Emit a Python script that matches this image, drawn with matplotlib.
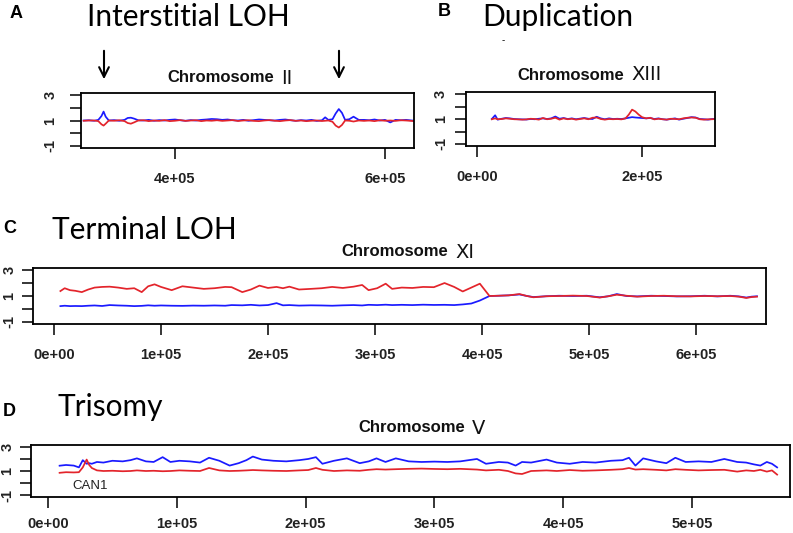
import matplotlib
matplotlib.use("Agg")
import matplotlib.pyplot as plt

plt.rcParams['font.family'] = ['Liberation Sans', 'DejaVu Sans']
plt.rcParams['axes.unicode_minus'] = False

# ---- data (positions in kb, relative copy number) ----
# A: Chromosome II, interstitial LOH
a_pos = [313, 318, 323, 327, 330, 332, 334, 337, 342, 347,
         352, 355, 358, 361, 365, 370, 375, 380, 385, 390,
         395, 400, 405, 410, 415, 420, 425, 430, 435, 440,
         445, 450, 455, 460, 465, 470, 475, 480, 485, 490,
         495, 500, 505, 510, 515, 520, 525, 530, 535, 540,
         543, 546, 550, 553, 556, 559, 562, 566, 570, 575,
         580, 585, 590, 595, 600, 605, 610, 615, 620, 628]
a_blue = [1.00, 1.02, 0.98, 1.05, 1.35, 1.70, 1.30, 1.00, 1.03, 0.98,
          1.05, 1.20, 1.22, 1.15, 1.02, 1.00, 1.05, 0.98, 1.03, 1.00,
          1.05, 1.08, 1.02, 0.98, 1.03, 1.00, 1.05, 1.08, 1.12, 1.10,
          1.05, 1.08, 1.02, 1.00, 1.05, 0.98, 1.03, 1.08, 1.05, 1.02,
          1.00, 1.05, 1.08, 1.02, 0.98, 1.03, 1.00, 1.05, 0.97, 1.02,
          1.25, 1.05, 1.10, 1.55, 1.90, 1.60, 1.05, 1.10, 1.30, 1.05,
          1.05, 1.02, 1.08, 1.00, 1.05, 0.85, 1.05, 1.02, 1.05, 0.98]
a_red = [0.98, 1.00, 1.00, 0.95, 0.70, 0.60, 0.75, 1.00, 0.98, 1.02,
         0.95, 0.80, 0.75, 0.85, 1.00, 1.02, 0.95, 1.00, 0.97, 1.03,
         0.95, 0.98, 1.03, 0.97, 1.00, 1.02, 0.95, 1.00, 0.98, 1.02,
         0.97, 1.00, 1.03, 0.96, 1.00, 1.02, 0.97, 0.95, 1.00, 1.03,
         0.98, 0.95, 1.00, 1.03, 0.97, 1.00, 0.95, 0.98, 1.00, 0.96,
         0.98, 1.00, 0.90, 0.60, 0.45, 0.65, 1.00, 0.98, 0.92, 1.00,
         0.97, 1.00, 0.95, 1.02, 0.98, 1.00, 0.97, 1.02, 1.00, 0.95]

# B: Chromosome XIII, duplication
b_pos = [18, 22, 25, 30, 35, 40, 45, 50, 55, 60,
         65, 70, 75, 80, 85, 90, 95, 100, 105, 110,
         115, 120, 125, 130, 135, 140, 145, 150, 155, 160,
         165, 170, 175, 180, 184, 188, 192, 196, 200, 205,
         210, 215, 220, 225, 230, 235, 240, 245, 250, 255,
         260, 265, 270, 275, 280, 285, 290]
b_blue = [1.00, 1.30, 0.95, 1.02, 1.08, 1.05, 1.00, 0.98, 0.97, 0.96,
          1.00, 0.98, 1.02, 1.05, 1.00, 1.05, 1.20, 1.02, 1.08, 1.00,
          1.05, 0.98, 1.03, 1.08, 1.02, 1.00, 1.18, 1.05, 0.98, 1.05,
          1.00, 1.02, 1.00, 1.05, 1.10, 1.15, 1.12, 1.10, 1.08, 1.05,
          1.08, 1.00, 1.05, 0.98, 0.95, 1.00, 1.05, 0.95, 1.02, 1.08,
          1.15, 1.12, 1.00, 0.98, 0.95, 1.00, 1.02]
b_red = [0.98, 1.05, 0.98, 1.00, 1.05, 1.02, 0.98, 0.97, 0.95, 0.97,
         1.02, 1.00, 0.95, 1.08, 0.98, 1.02, 1.10, 0.95, 1.05, 0.98,
         1.02, 0.95, 1.00, 1.05, 0.98, 1.10, 1.12, 1.00, 0.95, 1.00,
         0.98, 1.00, 0.97, 1.05, 1.35, 1.75, 1.60, 1.35, 1.15, 1.05,
         1.10, 0.97, 1.02, 0.98, 0.95, 1.02, 1.00, 0.98, 1.05, 1.10,
         1.12, 1.10, 0.98, 0.95, 0.97, 0.98, 1.00]

# C: Chromosome XI, terminal LOH
c_pos = [6, 10, 15, 20, 26, 32, 38, 45, 52, 60,
         68, 75, 82, 88, 94, 100, 110, 120, 130, 140,
         150, 160, 166, 176, 184, 192, 200, 208, 214, 220,
         229, 240, 250, 260, 270, 280, 288, 294, 302, 310,
         316, 325, 335, 345, 355, 365, 374, 382, 390, 398,
         407, 415, 425, 435, 442, 448, 460, 472, 485, 498,
         510, 518, 526, 535, 545, 558, 570, 582, 595, 608,
         620, 632, 640, 647, 652, 657]
c_red = [1.38, 1.60, 1.45, 1.40, 1.30, 1.50, 1.65, 1.70, 1.72, 1.65,
         1.55, 1.60, 1.30, 1.75, 1.90, 1.70, 1.45, 1.75, 1.65, 1.55,
         1.60, 1.70, 1.68, 1.30, 1.50, 1.80, 1.62, 1.70, 1.60, 1.72,
         1.50, 1.55, 1.60, 1.70, 1.62, 1.72, 1.85, 1.45, 1.60, 1.95,
         1.55, 1.65, 1.62, 1.70, 1.68, 2.00, 1.70, 1.35, 1.65, 1.95,
         1.00, 1.02, 1.05, 1.15, 1.00, 0.90, 0.98, 1.00, 1.03, 1.00,
         0.88, 0.98, 1.10, 1.02, 0.95, 1.00, 1.02, 0.98, 0.97, 1.00,
         0.98, 1.00, 0.95, 0.85, 0.92, 0.95]
c_blue = [0.22, 0.25, 0.22, 0.23, 0.22, 0.25, 0.27, 0.23, 0.30, 0.27,
          0.25, 0.22, 0.24, 0.28, 0.25, 0.27, 0.25, 0.24, 0.26, 0.25,
          0.27, 0.25, 0.30, 0.28, 0.32, 0.27, 0.30, 0.45, 0.28, 0.30,
          0.26, 0.28, 0.27, 0.25, 0.28, 0.30, 0.27, 0.32, 0.30, 0.33,
          0.30, 0.32, 0.30, 0.33, 0.31, 0.32, 0.30, 0.35, 0.42, 0.65,
          1.00, 1.02, 1.05, 1.12, 1.00, 0.92, 0.98, 1.02, 1.00, 1.02,
          0.90, 0.98, 1.15, 1.00, 0.97, 1.02, 1.00, 0.97, 0.98, 1.02,
          0.97, 1.02, 0.97, 0.88, 0.95, 0.98]

# D: Chromosome V, trisomy
d_pos = [9, 14, 20, 24, 27, 30, 32, 34, 38, 43,
         50, 58, 64, 69, 76, 82, 89, 95, 102, 110,
         118, 125, 133, 141, 148, 154, 159, 166, 175, 185,
         195, 202, 208, 213, 222, 232, 242, 249, 255, 262,
         270, 280, 290, 300, 310, 320, 333, 340, 350, 357,
         363, 368, 375, 387, 395, 405, 415, 425, 437, 446,
         451, 456, 462, 472, 480, 487, 495, 505, 515, 525,
         535, 542, 548, 553, 558, 562, 566]
d_blue = [1.44, 1.50, 1.45, 1.30, 1.90, 1.60, 1.65, 1.60, 1.75, 1.70,
          1.85, 1.80, 1.90, 2.05, 1.80, 1.75, 2.15, 1.75, 1.85, 1.80,
          1.70, 2.10, 1.85, 1.45, 1.65, 1.90, 2.20, 1.95, 1.85, 1.80,
          1.90, 2.00, 2.15, 1.60, 1.85, 2.05, 1.65, 1.80, 2.05, 1.75,
          2.05, 1.80, 1.75, 1.78, 1.75, 1.80, 2.00, 1.60, 1.75, 1.70,
          1.45, 1.75, 1.70, 1.95, 1.70, 1.60, 1.75, 1.70, 1.85, 1.90,
          2.10, 1.45, 2.05, 1.80, 1.65, 2.10, 1.75, 1.80, 1.75, 2.00,
          1.75, 1.70, 1.55, 1.45, 1.75, 1.60, 1.30]
d_red = [0.85, 0.90, 0.88, 0.90, 1.30, 1.95, 1.50, 1.25, 1.05, 1.00,
         1.02, 0.98, 1.00, 1.05, 1.00, 1.02, 0.98, 1.00, 1.05, 1.02,
         1.00, 1.25, 1.05, 1.00, 1.02, 1.05, 1.08, 1.05, 1.02, 1.00,
         1.05, 1.08, 1.25, 1.10, 1.00, 1.05, 1.02, 1.10, 1.15, 1.12,
         1.15, 1.18, 1.20, 1.17, 1.15, 1.18, 1.12, 1.05, 1.10, 1.00,
         0.80, 0.75, 1.00, 1.05, 1.00, 1.08, 1.02, 1.05, 1.10, 1.15,
         1.25, 1.12, 1.15, 1.10, 1.05, 1.15, 1.10, 1.05, 1.08, 1.10,
         0.95, 1.05, 1.00, 1.10, 0.95, 1.05, 0.70]

y_ticks = [-1, 0, 1, 2, 3]
y_labels = ['-1', '', '1', '', '3']

W, H = 793, 533
BLUE = '#1a1aff'
RED = '#e3242b'

fig = plt.figure(figsize=(W / 100, H / 100), dpi=100)


def rect(l, t, r, b):
    return [l / W, 1 - b / H, (r - l) / W, (b - t) / H]


def ftext(x, y, s, **kw):
    fig.text(x / W, 1 - y / H, s, **kw)


def panel(box, pos, blue, red, xlim, xticks, ypad, xpad=9):
    ax = fig.add_axes(rect(*box))
    xs = [p * 1000 for p in pos]
    ax.plot(xs, blue, color=BLUE, lw=1.25)
    ax.plot(xs, red, color=RED, lw=1.25)
    ax.set_xlim(*xlim)
    ax.set_ylim(-1.16, 3.16)
    ax.set_xticks(xticks)
    ax.set_xticklabels(['%.0e' % t for t in xticks])
    ax.set_yticks(y_ticks)
    ax.set_yticklabels(y_labels, rotation=90, va='center')
    ax.tick_params(axis='x', direction='out', length=8, width=1.1,
                   pad=xpad, labelsize=10.5)
    ax.tick_params(axis='y', direction='out', length=8, width=1.1,
                   pad=ypad, labelsize=10.5)
    for lab in ax.get_xticklabels() + ax.get_yticklabels():
        lab.set_fontweight('bold')
        lab.set_color('#222222')
    for s in ax.spines.values():
        s.set_linewidth(1.3)
    return ax


panel((81, 93, 414, 148), a_pos, a_blue, a_red, (310500, 627600),
      [400000, 600000], 9)
panel((466, 92, 715, 146), b_pos, b_blue, b_red, (-13300, 288500),
      [0, 200000], 5)
panel((33, 268, 766, 324), c_pos, c_blue, c_red, (-19600, 665400),
      [0, 100000, 200000, 300000, 400000, 500000, 600000], 4)
panel((31, 445, 790, 497), d_pos, d_blue, d_red, (-13200, 576000),
      [0, 100000, 200000, 300000, 400000, 500000], 4, xpad=6.5)

ftext(90, 486, 'CAN1', fontsize=9.5, ha='center', va='center', color='#222222')

# chromosome titles: bold word + plain roman numeral
for x0, y0, num in [(274, 78, 'II'), (624, 75, 'XIII'), (448, 252, 'XI'), (465, 428, 'V')]:
    ftext(x0, y0, 'Chromosome', fontsize=12, fontweight='bold',
          ha='right', va='center', color='#111111')
    ftext(x0 + 7, y0, num, fontsize=14, ha='left', va='center',
          family=['DejaVu Sans'], color='#111111')

# panel letters and headings
for x0, y0, letter in [(10, 14, 'A'), (438, 12, 'B'), (3, 228, 'C'), (3, 411, 'D')]:
    ftext(x0, y0, letter, fontsize=13, fontweight='bold', va='center')
for x0, y0, head in [(87, 17, 'Interstitial LOH'), (482, 17, 'Duplication'),
                     (52, 230, 'Terminal LOH'), (57, 407, 'Trisomy')]:
    ftext(x0, y0, head, fontsize=21.5, va='center', family=['Lato', 'DejaVu Sans'])

ftext(503, 40, '-', fontsize=7, ha='center', va='center')

# arrows marking LOH breakpoints
for xa in [104, 339]:
    fig.add_artist(matplotlib.patches.FancyArrowPatch(
        (xa / W, 1 - 48 / H), (xa / W, 1 - 82 / H), transform=fig.transFigure,
        arrowstyle='->,head_length=7,head_width=3.5', lw=1.5, color='black'))

fig.savefig('out.png', dpi=100)
